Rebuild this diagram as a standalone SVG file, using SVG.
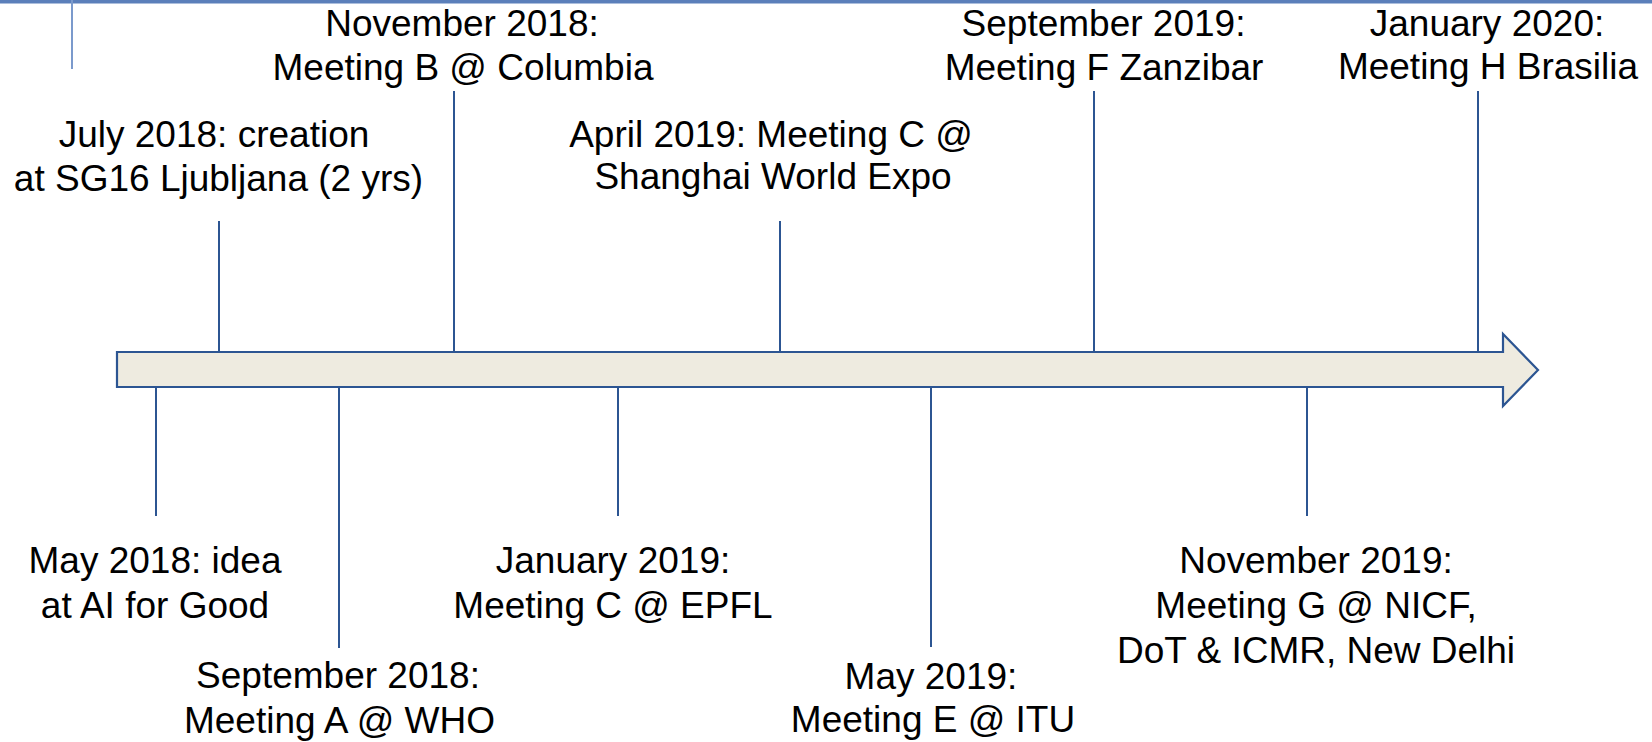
<svg xmlns="http://www.w3.org/2000/svg" width="1652" height="742" viewBox="0 0 1652 742">
  <style>
    text { font-family: "Liberation Sans", Arial, sans-serif; font-size: 37px; fill: #000; text-anchor: middle; }
    .tick { stroke: #2c5592; stroke-width: 2; fill: none; }
  </style>
  <rect x="0" y="0" width="1652" height="742" fill="#ffffff"/>
  <rect id="topband" x="0" y="0" width="1652" height="3.5" fill="#5b7fba"/>
  <line x1="72" y1="0" x2="72" y2="69" stroke="#7b9acc" stroke-width="2"/>
  <g id="timeline-arrow">
    <path d="M117,352 L1503,352 L1503,334 L1538,370 L1503,406 L1503,387 L117,387 Z" fill="#eeebe0" stroke="#2c5592" stroke-width="2.2" stroke-linejoin="miter"/>
  </g>
  <g id="connectors">
    <line class="tick" x1="219" y1="221" x2="219" y2="352"/>
    <line class="tick" x1="454" y1="91" x2="454" y2="352"/>
    <line class="tick" x1="780" y1="221" x2="780" y2="352"/>
    <line class="tick" x1="1094" y1="91" x2="1094" y2="352"/>
    <line class="tick" x1="1478" y1="91" x2="1478" y2="352"/>
    <line class="tick" x1="156" y1="387" x2="156" y2="516"/>
    <line class="tick" x1="339" y1="387" x2="339" y2="648"/>
    <line class="tick" x1="618" y1="387" x2="618" y2="516"/>
    <line class="tick" x1="931" y1="387" x2="931" y2="647"/>
    <line class="tick" x1="1307" y1="387" x2="1307" y2="516"/>
  </g>
  <g id="nov2018">
    <text x="462" y="36">November 2018:</text>
    <text x="463" y="80">Meeting B @ Columbia</text>
  </g>
  <g id="jul2018">
    <text x="214" y="147">July 2018: creation</text>
    <text x="218.5" y="191">at SG16 Ljubljana (2 yrs)</text>
  </g>
  <g id="apr2019">
    <text x="771" y="147">April 2019: Meeting C @</text>
    <text x="773" y="189">Shanghai World Expo</text>
  </g>
  <g id="sep2019">
    <text x="1103.5" y="36">September 2019:</text>
    <text x="1104" y="80">Meeting F Zanzibar</text>
  </g>
  <g id="jan2020">
    <text x="1487" y="36">January 2020:</text>
    <text x="1488" y="79">Meeting H Brasilia</text>
  </g>
  <g id="may2018">
    <text x="155" y="573">May 2018: idea</text>
    <text x="155" y="618">at AI for Good</text>
  </g>
  <g id="sep2018">
    <text x="338" y="688">September 2018:</text>
    <text x="339.5" y="733">Meeting A @ WHO</text>
  </g>
  <g id="jan2019">
    <text x="613" y="573">January 2019:</text>
    <text x="613" y="618">Meeting C @ EPFL</text>
  </g>
  <g id="may2019">
    <text x="931" y="689">May 2019:</text>
    <text x="933" y="732">Meeting E @ ITU</text>
  </g>
  <g id="nov2019">
    <text x="1316" y="573">November 2019:</text>
    <text x="1316" y="618">Meeting G @ NICF,</text>
    <text x="1316" y="663">DoT &amp; ICMR, New Delhi</text>
  </g>
</svg>
